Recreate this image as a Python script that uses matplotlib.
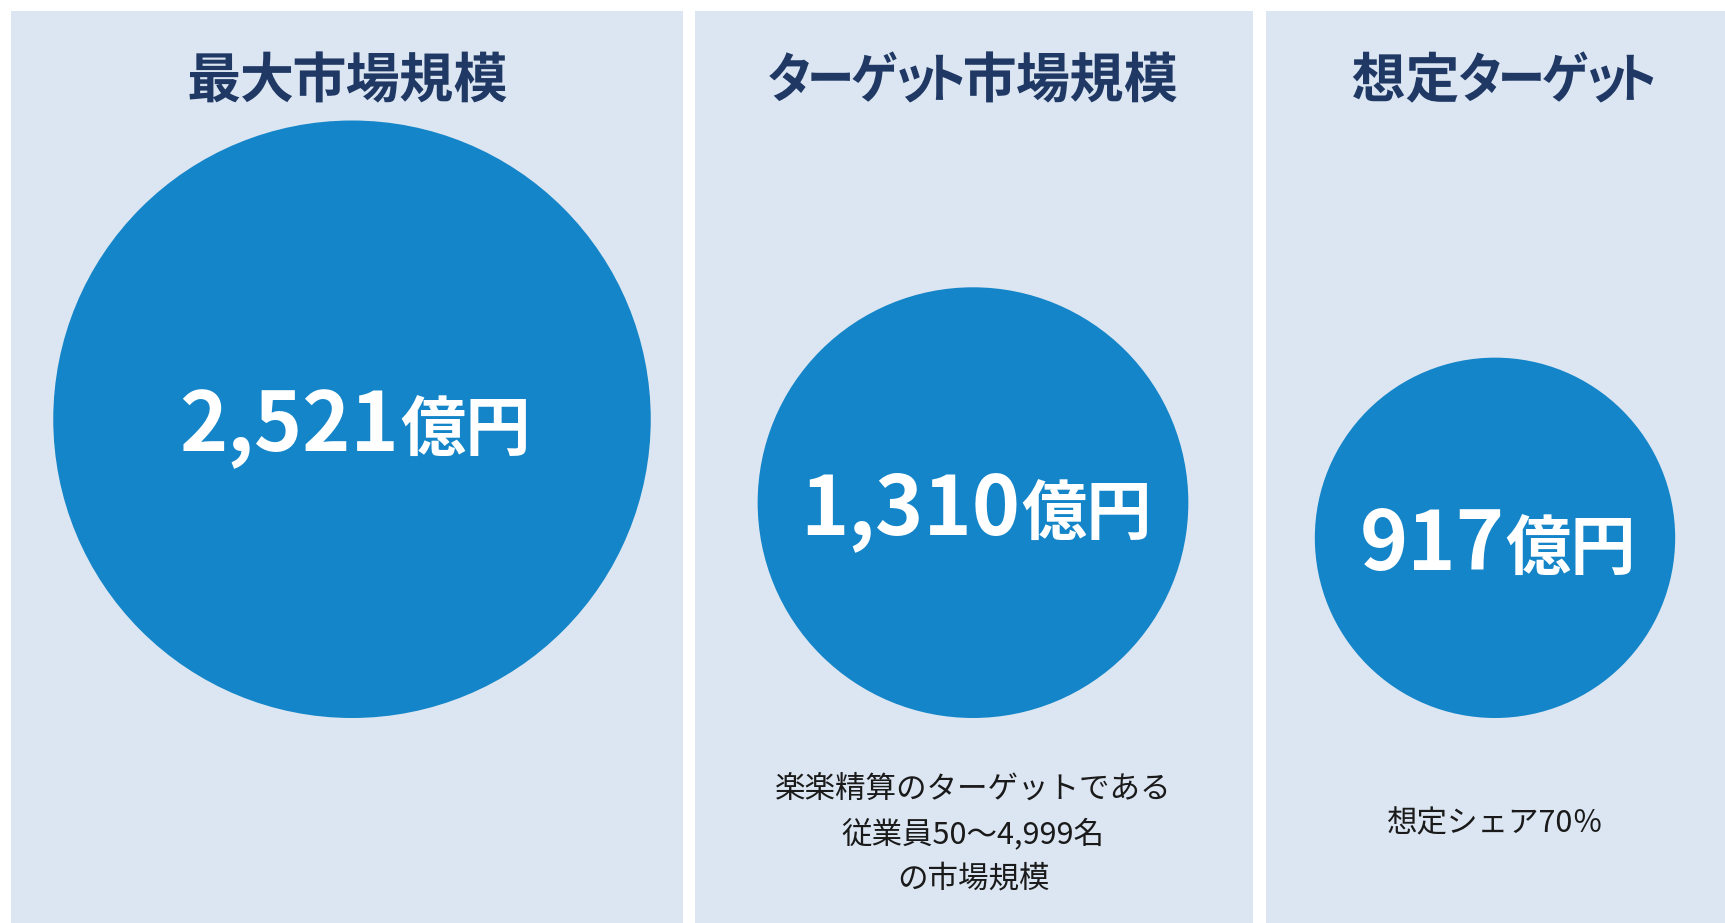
import numpy as np
import matplotlib.pyplot as plt
from matplotlib.patches import Circle, Rectangle, PathPatch
from matplotlib.textpath import TextPath
from matplotlib.font_manager import FontProperties
from matplotlib.transforms import Affine2D

plt.rcParams['font.family'] = ['Noto Sans CJK JP', 'DejaVu Sans']

# data
titles = ["最大市場規模", "ターゲット市場規模", "想定ターゲット"]
values = [2521, 1310, 917]
value_labels = ["2,521", "1,310", "917"]
unit = "億円"
notes = [
    [],
    ["楽楽精算のターゲットである", "従業員50～4,999名", "の市場規模"],
    ["想定シェア70％"],
]

# layout (pixel space, y downwards)
W, H = 1725, 923
panel_left = [11, 695, 1266]
panel_right = [683, 1253, 1725]
panel_top = 11
circle_cx = [352, 973, 1495]
title_cx = [348, 973, 1503]
circle_bottom = 718
px_per_sqrt = 5.95
title_base = 97.5
title_px = 54
title_gap = 2.5
kana_squeeze = 0.875
note_center_y = [0, 834, 824]
note_step = 45

bg_color = "#DCE6F2"
circle_color = "#1485C8"
title_color = "#1F3864"
note_color = "#1A1A1A"

fig = plt.figure(figsize=(W / 100, H / 100), dpi=100)
ax = fig.add_axes([0, 0, 1, 1])
ax.set_xlim(0, W)
ax.set_ylim(H, 0)
ax.axis("off")

fig.canvas.draw()
renderer = fig.canvas.get_renderer()

bold_jp = FontProperties(family="Noto Sans CJK JP", weight="bold")


def is_kana(ch):
    return "\u3040" <= ch <= "\u30ff"


def tight_title(x_center, y, s, color):
    # glyph outlines placed by ink width; kana a little narrower, like the
    # proportional heading font of the original
    glyphs = []
    for ch in s:
        p = TextPath((0, 0), ch, size=title_px, prop=bold_jp)
        sx = kana_squeeze if is_kana(ch) else 1.0
        ext = p.get_extents()
        glyphs.append((p, ext.x0, sx, (ext.x1 - ext.x0) * sx))
    total = sum(g[3] for g in glyphs) + title_gap * (len(glyphs) - 1)
    x = x_center - total / 2
    for p, x0, sx, w in glyphs:
        tr = Affine2D().translate(-x0, 0).scale(sx, -1).translate(x, y)
        ax.add_patch(PathPatch(tr.transform_path(p), facecolor=color,
                               edgecolor="none"))
        x += w + title_gap


for i in range(len(values)):
    left = panel_left[i]
    right = panel_right[i]
    cx = circle_cx[i]

    ax.add_patch(Rectangle((left, panel_top), right - left, H - panel_top,
                           facecolor=bg_color, edgecolor="none"))

    tight_title(title_cx[i], title_base, titles[i], title_color)

    r = px_per_sqrt * np.sqrt(values[i])
    cy = circle_bottom - r
    ax.add_patch(Circle((cx, cy), r, facecolor=circle_color, edgecolor="none"))

    # number + unit, centred together on the circle
    base = cy + 32
    t1 = ax.text(0, base, value_labels[i], ha="left", va="baseline",
                 fontsize=59, fontweight="bold", color="white")
    t2 = ax.text(0, base, unit, ha="left", va="baseline",
                 fontsize=47, fontweight="bold", color="white")
    w1 = t1.get_window_extent(renderer).width
    w2 = t2.get_window_extent(renderer).width
    gap = 1
    start = cx + 3 - (w1 + gap + w2) / 2
    t1.set_x(start)
    t2.set_x(start + w1 + gap)

    lines = notes[i]
    for j, line in enumerate(lines):
        y = note_center_y[i] + (j - (len(lines) - 1) / 2) * note_step
        ax.text(cx, y, line, ha="center", va="center",
                fontsize=22, color=note_color)

fig.savefig("out.png", dpi=100, facecolor="white")
